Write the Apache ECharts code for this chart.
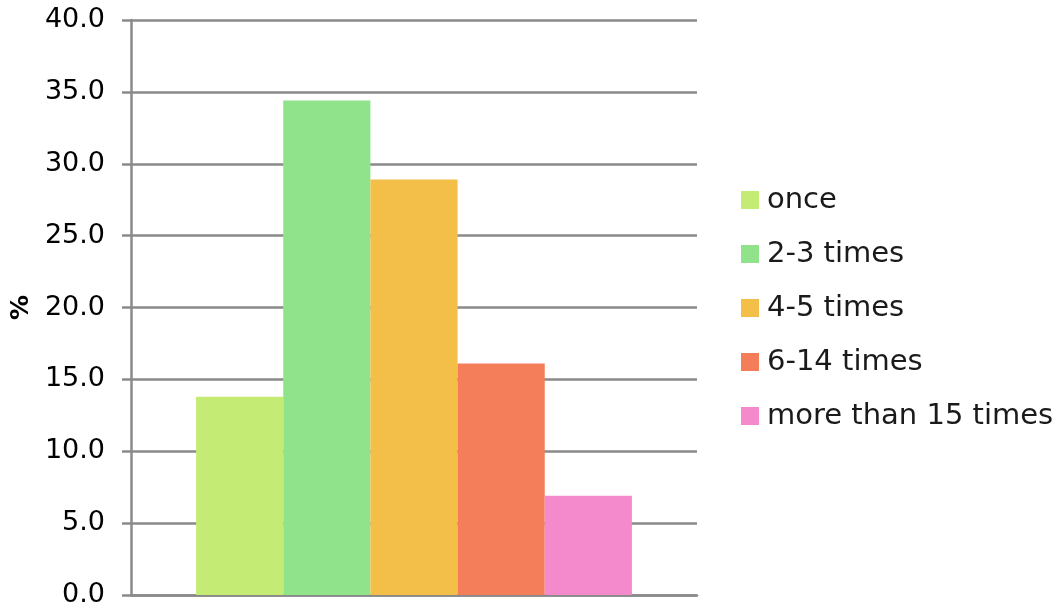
<!DOCTYPE html>
<html>
<head>
<meta charset="utf-8">
<script src="https://cdn.jsdelivr.net/npm/echarts@6/dist/echarts.min.js"></script>
<style>
  html, body { margin: 0; padding: 0; background: #ffffff; }
  #chart { width: 1063px; height: 607px; }
</style>
</head>
<body>
<div id="chart"></div>
<script>
// Frequency groups and their shares (%)
const groups = ['once', '2-3 times', '4-5 times', '6-14 times', 'more than 15 times'];
const shares = [13.8, 34.4, 28.9, 16.1, 6.9];
const colors = ['#C4EC74', '#90E28B', '#F3BF48', '#F47E5A', '#F48ACB'];
const yTicks = { min: 0, max: 40, interval: 5 };
const yName = '%';

const chart = echarts.init(document.getElementById('chart'), null, { renderer: 'canvas' });

const gridColor = '#8A8A8A';

const series = groups.map((g, i) => ({
  name: g,
  type: 'bar',
  data: [shares[i]],
  barGap: '0%',
  barCategoryGap: '23%',
  itemStyle: { color: colors[i] },
  emphasis: { disabled: true }
}));

chart.setOption({
  animation: false,
  backgroundColor: '#ffffff',
  grid: { left: 131, right: 366, top: 20, bottom: 12, containLabel: false, outerBoundsMode: 'none' },
  legend: {
    orient: 'vertical',
    left: 741,
    top: 182,
    padding: 0,
    icon: 'rect',
    itemWidth: 18,
    itemHeight: 18,
    itemGap: 18,
    data: groups,
    textStyle: {
      fontFamily: 'DejaVu Sans',
      fontSize: 29,
      color: '#1a1a1a',
      lineHeight: 36,
      padding: [0, 0, 0, 3]
    }
  },
  xAxis: {
    type: 'category',
    data: [''],
    axisLine: { show: true, lineStyle: { color: gridColor, width: 2.5 } },
    axisTick: { show: false },
    axisLabel: { show: false },
    splitLine: { show: false }
  },
  yAxis: {
    type: 'value',
    min: yTicks.min,
    max: yTicks.max,
    interval: yTicks.interval,
    name: yName,
    nameLocation: 'middle',
    nameRotate: 90,
    nameGap: 91,
    nameTextStyle: { fontFamily: 'DejaVu Sans', fontSize: 25, fontWeight: 'bold', color: '#000' },
    axisLine: { show: true, lineStyle: { color: gridColor, width: 2.5 } },
    axisTick: { show: true, length: 9, lineStyle: { color: gridColor, width: 2.5 } },
    axisLabel: {
      fontFamily: 'DejaVu Sans',
      fontSize: 27,
      color: '#000',
      margin: 26,
      formatter: v => v.toFixed(1)
    },
    splitLine: { show: true, lineStyle: { color: gridColor, width: 2.5 } }
  },
  series: series
});
</script>
</body>
</html>
